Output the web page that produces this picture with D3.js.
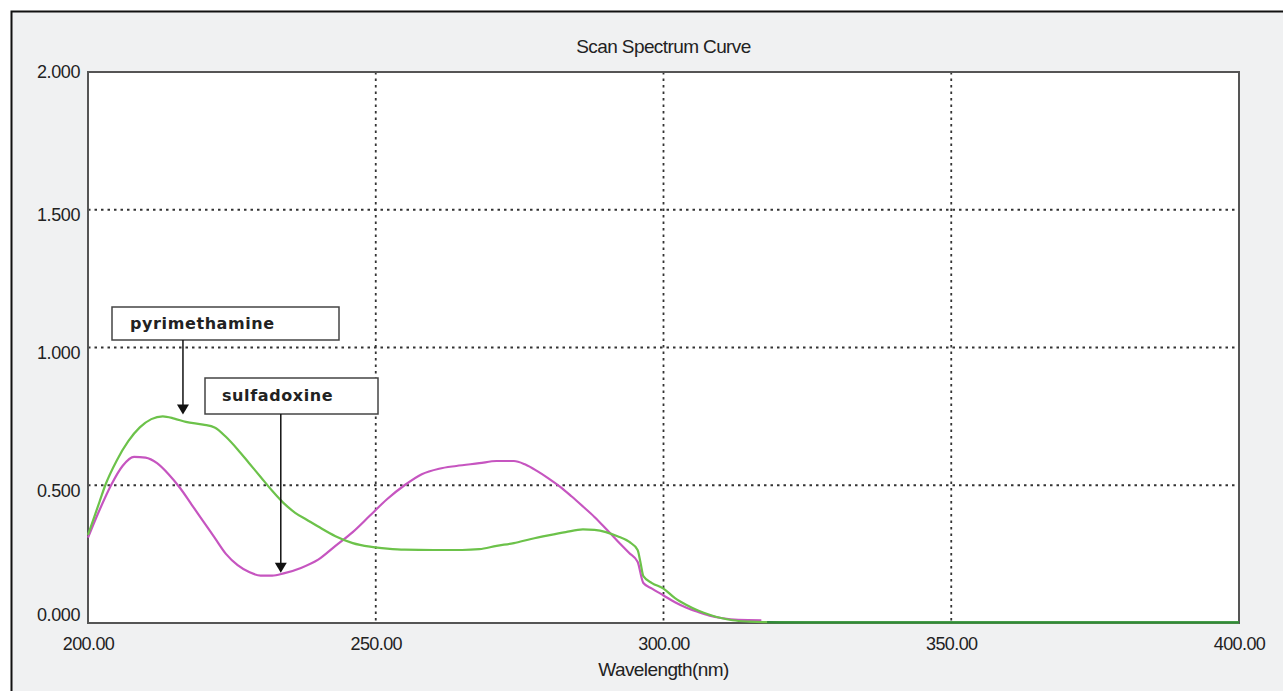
<!DOCTYPE html>
<html><head><meta charset="utf-8">
<script src="https://cdn.jsdelivr.net/npm/d3@7"></script>
<style>
html,body{margin:0;padding:0;background:#fff;}
text{font-family:"Liberation Sans Narrow","Liberation Sans",Arial,sans-serif;fill:#222;}
</style></head>
<body><svg id="c" width="1283" height="691"></svg>
<script>
// ---- data ----
const title = "Scan Spectrum Curve";
const xLabel = "Wavelength(nm)";
const xTicks = [200, 250, 300, 350, 400];
const yTicks = [0, 0.5, 1.0, 1.5, 2.0];

const pyrWavelength = [200,202,203,205,207,209,211,213,215,217,220,222,224,226,228,230,232,234,236,238,240,243,246,249,252,255,260,265,268,271,274,277,280,283,286,288,290,292,294,295.5,296,296.5,298,300,302,304,306,308,310,312,315,318,325,400];
const pyrAbs = [0.32,0.44,0.50,0.59,0.66,0.71,0.74,0.75,0.742,0.73,0.72,0.71,0.675,0.63,0.58,0.53,0.48,0.435,0.40,0.375,0.35,0.315,0.29,0.277,0.27,0.266,0.265,0.265,0.268,0.28,0.29,0.305,0.318,0.33,0.34,0.338,0.33,0.315,0.295,0.265,0.22,0.17,0.145,0.125,0.09,0.065,0.045,0.03,0.018,0.01,0.005,0.003,0.002,0.002];

const sulWavelength = [200,202,204,206,208,210,212,214,216,218,220,222,224,226,228,230,232,234,237,240,243,246,249,252,255,258,261,264,268,271,274,276,278,280,282,284,286,288,290,292,294,295.5,296.5,298,300,302,304,306,308,310,313,317];
const sulAbs = [0.31,0.41,0.50,0.57,0.603,0.60,0.58,0.54,0.49,0.43,0.37,0.31,0.25,0.21,0.185,0.172,0.172,0.18,0.20,0.23,0.28,0.33,0.39,0.45,0.50,0.54,0.56,0.57,0.58,0.588,0.588,0.575,0.552,0.525,0.495,0.46,0.423,0.385,0.342,0.298,0.255,0.222,0.145,0.125,0.10,0.075,0.055,0.04,0.027,0.018,0.011,0.01];

const annotations = [
  {label:"pyrimethamine", wl:216.5, abs:0.75},
  {label:"sulfadoxine", wl:233.5, abs:0.175}
];

// ---- drawing ----
const svg = d3.select("#c");
const W = 1283, H = 691;
const m = {left:88, top:72, right:W-1239, bottom:H-623};

svg.append("rect").attr("x",0).attr("y",0).attr("width",W).attr("height",H).attr("fill","#fff");
svg.append("rect").attr("x",11).attr("y",11).attr("width",W-11).attr("height",H-11).attr("fill","#f0f1f2");
svg.append("path").attr("d",`M11.5,${H}V11.5H${W}`).attr("fill","none").attr("stroke","#111").attr("stroke-width",2);

const x = d3.scaleLinear().domain([200,400]).range([m.left, W-m.right]);
const y = d3.scaleLinear().domain([0,2]).range([H-m.bottom, m.top]);

svg.append("rect").attr("x",m.left).attr("y",m.top).attr("width",x(400)-x(200)).attr("height",y(0)-y(2)).attr("fill","#fff");

// gridlines
const g = svg.append("g");
g.selectAll(".vg").data(xTicks.slice(1,-1)).join("line")
  .attr("x1",d=>x(d)).attr("x2",d=>x(d)).attr("y1",y(2)).attr("y2",y(0))
  .attr("stroke","#333").attr("stroke-width",1.8).attr("stroke-dasharray","2.5,4");
g.selectAll(".hg").data(yTicks.slice(1,-1)).join("line")
  .attr("y1",d=>y(d)).attr("y2",d=>y(d)).attr("x1",x(200)).attr("x2",x(400))
  .attr("stroke","#333").attr("stroke-width",1.8).attr("stroke-dasharray","2.5,4");

// frame
svg.append("rect").attr("x",m.left).attr("y",m.top).attr("width",x(400)-x(200)).attr("height",y(0)-y(2))
  .attr("fill","none").attr("stroke","#555").attr("stroke-width",2);

// axes labels via d3 axes
const xAxis = d3.axisBottom(x).tickValues(xTicks).tickFormat(d3.format(".2f")).tickSize(0).tickPadding(14);
const xa = svg.append("g").attr("transform",`translate(0,${y(0)})`).call(xAxis);
xa.select(".domain").remove();
xa.selectAll("text").attr("font-size",18).attr("fill","#222").attr("font-family",null).style("letter-spacing","-0.6px");

const yAxis = d3.axisLeft(y).tickValues(yTicks).tickFormat(d3.format(".3f")).tickSize(0).tickPadding(8);
const ya = svg.append("g").attr("transform",`translate(${x(200)},0)`).call(yAxis);
ya.select(".domain").remove();
ya.selectAll("text").attr("font-size",18).attr("fill","#222").attr("font-family",null).style("letter-spacing","-0.4px")
  .attr("dy",d=>d===0?"-0.15em":d===2?"0.32em":"0.6em");

// lines
const line = d3.line().x(d=>x(d[0])).y(d=>y(d[1])).curve(d3.curveMonotoneX);
svg.append("path").datum(d3.zip(sulWavelength,sulAbs)).attr("d",line)
  .attr("fill","none").attr("stroke","#c655c0").attr("stroke-width",2.2);
svg.append("path").datum(d3.zip(pyrWavelength,pyrAbs)).attr("d",line)
  .attr("fill","none").attr("stroke","#6cc24a").attr("stroke-width",2.2);
svg.append("path").datum(d3.zip(pyrWavelength,pyrAbs).filter(d=>d[0]>=318)).attr("d",line)
  .attr("fill","none").attr("stroke","#2f8a3a").attr("stroke-width",2.2);

// annotations
const boxes = [
  {x0:112, y0:307, w:227, h:33, tx:130},
  {x0:205, y0:378, w:173, h:36, tx:222}
];
annotations.forEach((a,i)=>{
  const b = boxes[i];
  svg.append("rect").attr("x",b.x0).attr("y",b.y0).attr("width",b.w).attr("height",b.h)
    .attr("fill","#fff").attr("stroke","#444").attr("stroke-width",1.5);
  svg.append("text").attr("x",b.tx).attr("y",b.y0+b.h/2+5).text(a.label)
    .attr("font-size",16).attr("font-weight","bold").attr("fill","#333")
    .style("font-family","'DejaVu Sans',Verdana,sans-serif").style("letter-spacing","0.6px");
  const ax = x(a.wl), tipY = y(a.abs) - 2;
  svg.append("line").attr("x1",ax).attr("x2",ax).attr("y1",b.y0+b.h).attr("y2",tipY-8)
    .attr("stroke","#111").attr("stroke-width",1.5);
  svg.append("path").attr("d",`M${ax-6},${tipY-10}L${ax+6},${tipY-10}L${ax},${tipY}Z`).attr("fill","#111");
});

// title and x label
svg.append("text").attr("x",(x(200)+x(400))/2).attr("y",53).attr("text-anchor","middle")
  .attr("font-size",19).style("letter-spacing","-0.6px").text(title);
svg.append("text").attr("x",(x(200)+x(400))/2).attr("y",676).attr("text-anchor","middle")
  .attr("font-size",19).style("letter-spacing","-0.6px").text(xLabel);
</script></body></html>
